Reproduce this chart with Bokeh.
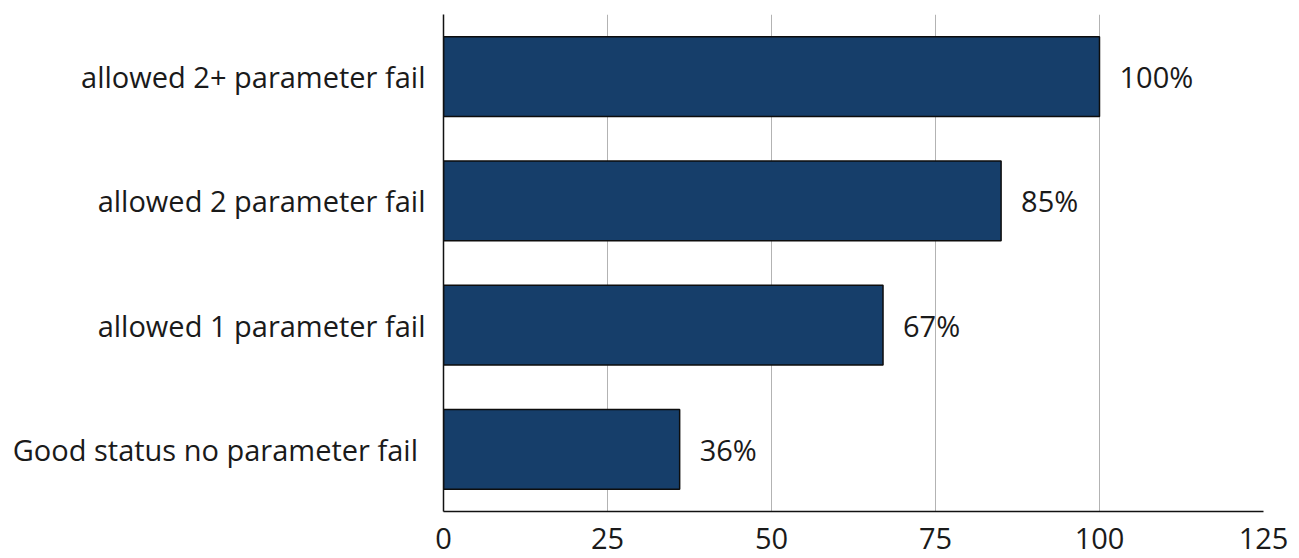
from bokeh.plotting import figure
from bokeh.models import ColumnDataSource, FixedTicker, Range1d
from bokeh.core.properties import value
from bokeh.embed import file_html
from bokeh.resources import INLINE

categories = ["Good status no parameter fail ", "allowed 1 parameter fail",
              "allowed 2 parameter fail", "allowed 2+ parameter fail"]
values = [36, 67, 85, 100]
labels = ["36%", "67%", "85%", "100%"]
x_ticks = [0, 25, 50, 75, 100, 125]

FONT = "Open Sans"
FS = "29px"
source = ColumnDataSource(dict(cat=categories, val=values, lab=labels))

p = figure(y_range=categories, x_range=Range1d(0, 125), width=1295, height=558,
           output_backend="svg", toolbar_location=None,
           min_border_left=443, min_border_right=32, min_border_top=14, min_border_bottom=47)

p.hbar(y="cat", right="val", left=0, height=0.64, source=source,
       fill_color="#163e6a", line_color="#0d0d0d", line_width=1.5)

p.text(x="val", y="cat", text="lab", source=source, x_offset=20,
       text_baseline="middle", text_align="left", text_font=value(FONT),
       text_font_size=FS, text_color="#1a1a1a")

p.outline_line_color = None
p.ygrid.grid_line_color = None
p.xgrid.grid_line_color = "#b3b3b3"
p.xgrid.grid_line_width = 1
p.xaxis.ticker = FixedTicker(ticks=x_ticks)

for ax in (p.xaxis, p.yaxis):
    ax.major_tick_line_color = None
    ax.minor_tick_line_color = None
    ax.major_label_text_font = FONT
    ax.major_label_text_font_size = FS
    ax.major_label_text_color = "#1a1a1a"
    ax.axis_line_color = "#111111"
    ax.axis_line_width = 1.5

p.xaxis.major_label_standoff = 10
p.yaxis.major_label_standoff = 12

open("out.html", "w").write(file_html(p, INLINE))
